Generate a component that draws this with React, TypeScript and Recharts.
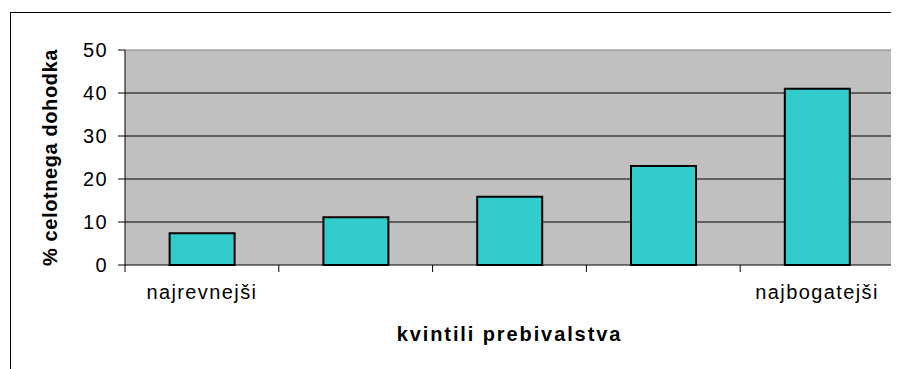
import React from "react";
import { BarChart, Bar, XAxis, YAxis, CartesianGrid, ReferenceLine } from "recharts";

// Share of total income by population quintile
const quintiles = ["Q1", "Q2", "Q3", "Q4", "Q5"];
const incomeShare = [7.4, 11.1, 15.9, 23.0, 41.0];
const quintileLabels = ["najrevnejši", "", "", "", "najbogatejši"];
const yTicks = [0, 10, 20, 30, 40, 50];

// pos = centre of each quintile on a 0..5 numeric scale
const data = quintiles.map((q, i) => ({ q, pos: i + 0.5, share: incomeShare[i] }));

// Boundary ticks (0..5) carry tick marks, half-step ticks carry the end labels
const boundaryTicks = quintiles.map((_, i) => i).concat([quintiles.length]);
const labelTicks = quintileLabels
  .map((l, i) => (l ? i + 0.5 : null))
  .filter((v): v is number => v !== null);
const xTicks = [...boundaryTicks, ...labelTicks].sort((a, b) => a - b);

const FONT = "Arial, 'Liberation Sans', sans-serif";

const XTick = (props: any) => {
  const { x, y, payload } = props;
  const v = payload.value as number;
  if (Number.isInteger(v)) {
    return <line x1={x} x2={x} y1={y} y2={y + 7} stroke="#000" strokeWidth={1} />;
  }
  const label = quintileLabels[Math.floor(v)];
  return (
    <text
      x={x}
      y={y}
      dy={34}
      textAnchor="middle"
      fill="#000"
      style={{ fontFamily: FONT, fontSize: 20, letterSpacing: 1.4 }}
    >
      {label}
    </text>
  );
};

const YTick = (props: any) => {
  const { x, y, payload } = props;
  return (
    <text
      x={x}
      y={y}
      textAnchor="end"
      dominantBaseline="central"
      fill="#000"
      style={{ fontFamily: FONT, fontSize: 20, letterSpacing: 1.4 }}
    >
      {payload.value}
    </text>
  );
};

export default function App() {
  return (
    <div style={{ position: "relative", width: 891, height: 361, background: "#fff" }}>
      <div
        style={{
          position: "absolute",
          left: 2,
          top: 4,
          width: 889,
          height: 357,
          borderTop: "1px solid #000",
          borderLeft: "1px solid #000",
        }}
      />
      <BarChart
        width={891}
        height={361}
        data={data}
        margin={{ top: 42, right: 5, bottom: 74, left: 0 }}
        barCategoryGap="29%"
        style={{ position: "absolute", left: 0, top: 0 }}
      >
        <CartesianGrid
          vertical={false}
          fill="#C0C0C0"
          stroke="#000"
          horizontalValues={yTicks.filter((v) => v > 0 && v < 50)}
        />
        <XAxis xAxisId="cat" dataKey="q" type="category" hide height={0} />
        <XAxis
          xAxisId="num"
          dataKey="pos"
          type="number"
          domain={[0, quintiles.length]}
          ticks={xTicks}
          interval={0}
          allowDataOverflow
          height={30}
          tickLine={false}
          tickSize={0}
          tickMargin={0}
          tick={<XTick />}
          axisLine={{ stroke: "#000", strokeWidth: 1 }}
          label={{
            value: "kvintili prebivalstva",
            position: "bottom",
            offset: 32,
            style: { fontFamily: FONT, fontSize: 20, fontWeight: "bold", fill: "#000", letterSpacing: 1.9 },
          }}
        />
        <YAxis
          width={117}
          domain={[0, 50]}
          ticks={yTicks}
          interval={0}
          tickSize={7}
          tickMargin={10}
          tick={<YTick />}
          tickLine={{ stroke: "#000" }}
          axisLine={{ stroke: "#000", strokeWidth: 1 }}
          label={{
            value: "% celotnega dohodka",
            angle: -90,
            position: "insideLeft",
            offset: 42,
            style: {
              textAnchor: "middle",
              fontFamily: FONT,
              fontSize: 20,
              fontWeight: "bold",
              fill: "#000",
              letterSpacing: 0.6,
            },
          }}
        />
        <ReferenceLine y={50} stroke="#808080" strokeWidth={1} />
        <ReferenceLine x={quintiles.length} xAxisId="num" stroke="#808080" strokeWidth={1.5} />
        <Bar
          dataKey="share"
          xAxisId="cat"
          fill="#33CCCC"
          stroke="#000"
          strokeWidth={2}
          isAnimationActive={false}
        />
      </BarChart>
    </div>
  );
}
